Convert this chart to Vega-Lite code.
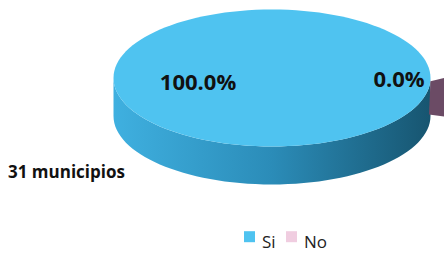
{
  "$schema": "https://vega.github.io/schema/vega-lite/v6.json",
  "width": 344,
  "height": 156,
  "autosize": {"type": "none"},
  "padding": {"left": 100, "top": 0, "right": 0, "bottom": 97},
  "background": "white",
  "title": {
    "text": "31 municipios",
    "orient": "top",
    "anchor": "start",
    "frame": "group",
    "offset": 0,
    "dx": -92,
    "dy": 182,
    "fontSize": 17,
    "fontWeight": "bold",
    "font": "Open Sans",
    "color": "#111111"
  },
  "data": {
    "values": [
      {"category": "Si", "value": 100, "label": "100.0%"},
      {"category": "No", "value": 0, "label": "0.0%"}
    ]
  },
  "layer": [
    {
      "transform": [{"filter": "datum.category === 'Si'"}],
      "mark": {
        "type": "point",
        "filled": true,
        "opacity": 1,
        "strokeWidth": 0,
        "size": 100489,
        "shape": "M -1 0 L -1 0.24 A 1 0.432 0 0 0 1 0.24 L 1 0 A 1 0.432 0 0 1 -1 0 Z",
        "color": {
          "gradient": "linear",
          "x1": 0, "y1": 0, "x2": 1, "y2": 0,
          "stops": [
            {"offset": 0, "color": "#3fb0e0"},
            {"offset": 0.5, "color": "#2b8cb8"},
            {"offset": 1, "color": "#175570"}
          ]
        }
      },
      "encoding": {}
    },
    {
      "transform": [{"filter": "datum.category === 'Si'"}],
      "mark": {
        "type": "point",
        "filled": true,
        "opacity": 1,
        "strokeWidth": 0,
        "size": 100489,
        "shape": "M -1 0 A 1 0.432 0 1 1 1 0 A 1 0.432 0 1 1 -1 0 Z"
      },
      "encoding": {
        "color": {
          "field": "category",
          "type": "nominal",
          "scale": {"domain": ["Si", "No"], "range": ["#4fc3f0", "#f0cde0"]},
          "legend": {
            "title": null,
            "orient": "none",
            "legendX": 141,
            "legendY": 234,
            "direction": "horizontal",
            "padding": 0,
            "symbolType": "M -1 -2.1 L 1 -2.1 L 1 -0.1 L -1 -0.1 Z",
            "symbolSize": 121,
            "symbolOpacity": 1,
            "symbolStrokeWidth": 0,
            "labelFont": "Open Sans",
            "labelFontSize": 17,
            "labelColor": "#222222",
            "labelOffset": 4,
            "labelBaseline": "middle",
            "columnPadding": 7
          }
        }
      }
    },
    {
      "transform": [{"filter": "datum.category === 'No'"}],
      "mark": {
        "type": "point",
        "filled": true,
        "opacity": 1,
        "strokeWidth": 0,
        "size": 100489,
        "shape": "M 1.0 0.02 L 1.13 -0.01 L 1.13 0.25 L 0.99 0.23 Z",
        "color": "#6b4b65"
      },
      "encoding": {}
    },
    {
      "transform": [{"filter": "datum.category === 'Si'"}],
      "mark": {"type": "text", "radius": 74, "dy": 5, "font": "Open Sans", "fontWeight": "bold", "fontSize": 22, "color": "#111111"},
      "encoding": {
        "theta": {"field": "value", "type": "quantitative", "stack": true, "scale": {"range": [1.5707963, 7.8539816]}},
        "text": {"field": "label"}
      }
    },
    {
      "transform": [{"filter": "datum.category === 'No'"}],
      "mark": {"type": "text", "radius": 127, "dy": 2, "font": "Open Sans", "fontWeight": "bold", "fontSize": 22, "color": "#111111"},
      "encoding": {
        "theta": {"field": "value", "type": "quantitative", "stack": true, "scale": {"range": [1.5707963, 7.8539816]}},
        "text": {"field": "label"}
      }
    }
  ],
  "config": {"view": {"stroke": null}}
}
